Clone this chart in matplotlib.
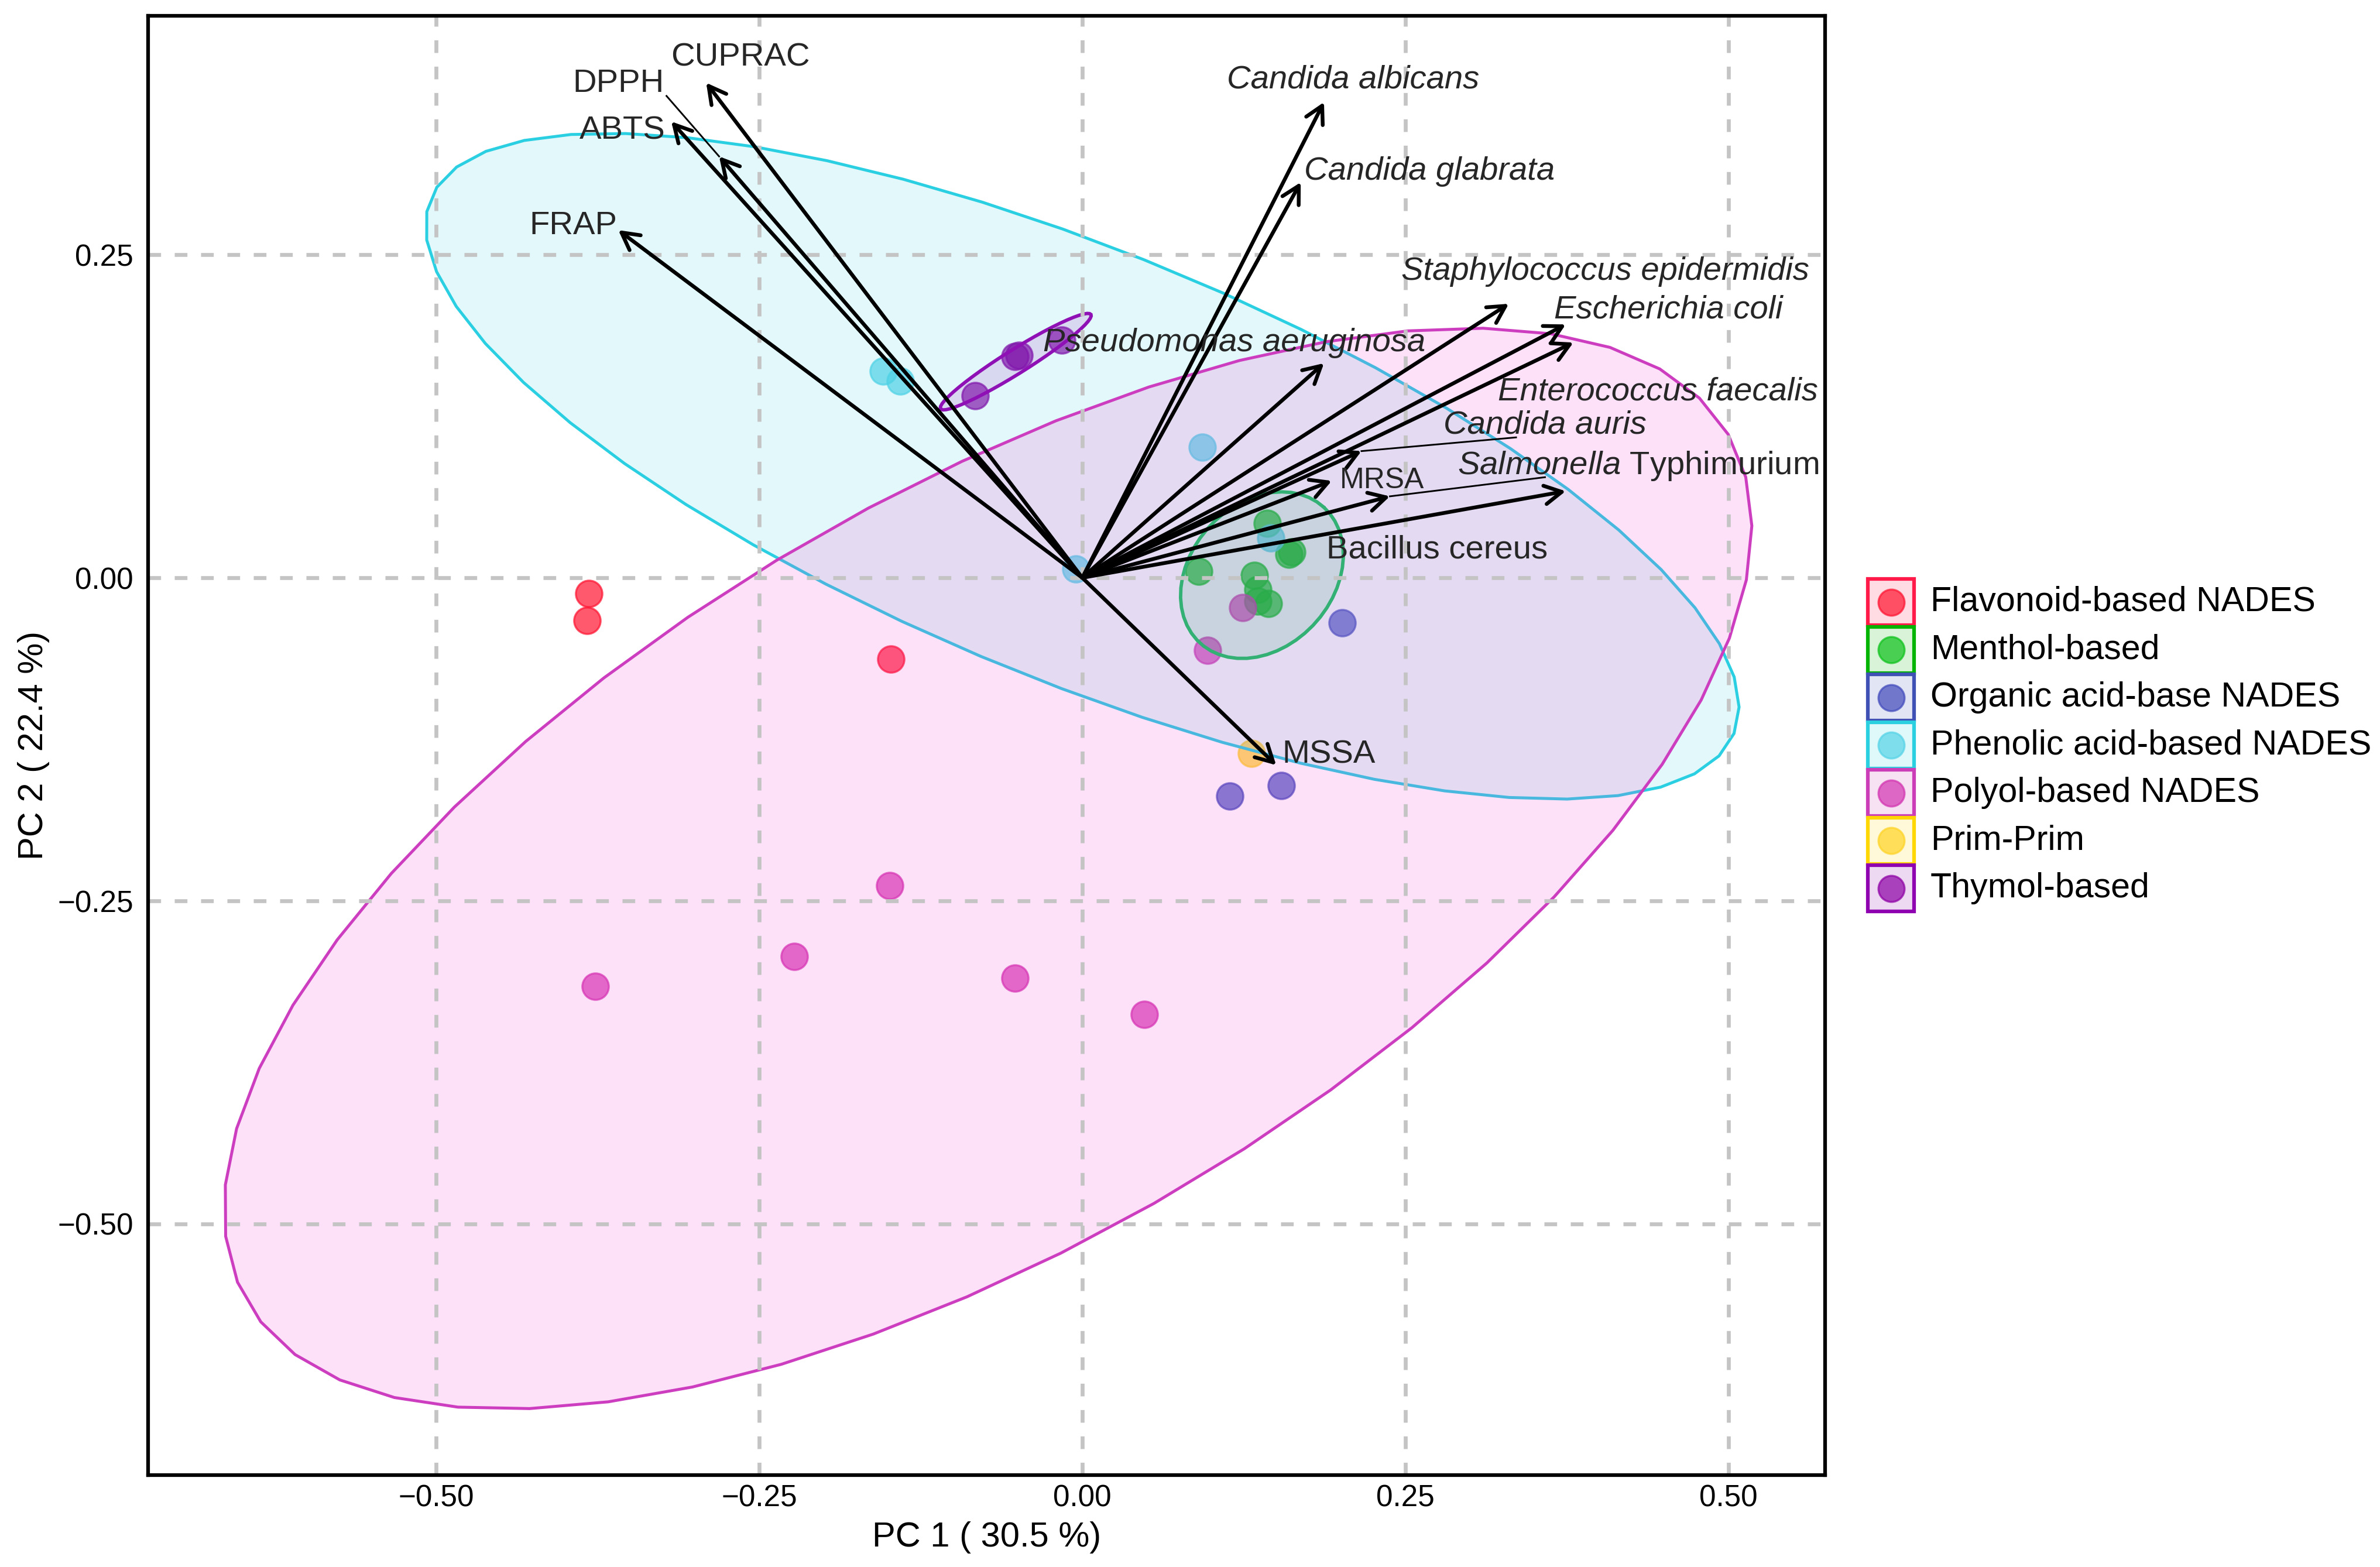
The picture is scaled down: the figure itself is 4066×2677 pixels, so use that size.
import numpy as np
import matplotlib.pyplot as plt
from matplotlib.colors import to_rgba
from matplotlib.patches import Polygon, Rectangle

plt.rcParams['font.family'] = ['Liberation Sans', 'DejaVu Sans']
plt.rcParams['mathtext.fontset'] = 'custom'
plt.rcParams['mathtext.rm'] = 'Liberation Sans'
plt.rcParams['mathtext.it'] = 'Liberation Sans:italic'

W, H, DPI = 4066, 2677, 300

# group order as in the legend
groups = ["Flavonoid-based NADES", "Menthol-based", "Organic acid-base NADES",
          "Phenolic acid-based NADES", "Polyol-based NADES", "Prim-Prim", "Thymol-based"]

# sample scores (PC1, PC2)
flavonoid_pc1 = [-0.382, -0.383, -0.148]
flavonoid_pc2 = [-0.012, -0.033, -0.063]
menthol_pc1 = [0.143, 0.162, 0.160, 0.090, 0.133, 0.136, 0.136, 0.144]
menthol_pc2 = [0.042, 0.020, 0.018, 0.005, 0.002, -0.009, -0.018, -0.020]
organic_pc1 = [0.201, 0.114, 0.154]
organic_pc2 = [-0.035, -0.169, -0.161]
phenolic_pc1 = [-0.154, -0.141, 0.093, -0.005, 0.146]
phenolic_pc2 = [0.160, 0.152, 0.101, 0.007, 0.031]
polyol_pc1 = [-0.377, -0.223, -0.149, -0.052, 0.048, 0.097, 0.124]
polyol_pc2 = [-0.316, -0.293, -0.238, -0.310, -0.338, -0.056, -0.023]
primprim_pc1 = [0.131]
primprim_pc2 = [-0.136]
thymol_pc1 = [-0.016, -0.052, -0.049, -0.083]
thymol_pc2 = [0.184, 0.171, 0.172, 0.141]

scores_pc1 = [flavonoid_pc1, menthol_pc1, organic_pc1, phenolic_pc1,
              polyol_pc1, primprim_pc1, thymol_pc1]
scores_pc2 = [flavonoid_pc2, menthol_pc2, organic_pc2, phenolic_pc2,
              polyol_pc2, primprim_pc2, thymol_pc2]

# 95% ellipses (centre, semi-axes, angle in degrees), in drawing order
ellipse_groups = ["Phenolic acid-based NADES", "Polyol-based NADES", "Menthol-based", "Thymol-based"]
ellipse_cx = [0.0, -0.073, 0.139, -0.0515]
ellipse_cy = [0.0863, -0.225, 0.002, 0.1672]
ellipse_a = [0.545, 0.664, 0.0711, 0.0687]
ellipse_b = [0.166, 0.2886, 0.0554, 0.0092]
ellipse_angle = [-22.3, 30.4, 47.7, 32.1]

# variable loadings (arrow tips)
loading_names = ["CUPRAC", "ABTS", "DPPH", "FRAP", "Candida albicans", "Candida glabrata",
                 "Staphylococcus epidermidis", "Escherichia coli", "Enterococcus faecalis",
                 "Pseudomonas aeruginosa", "Candida auris", "MRSA",
                 "Salmonella Typhimurium", "Bacillus cereus", "MSSA"]
loading_pc1 = [-0.291, -0.318, -0.281, -0.359, 0.187, 0.169, 0.330, 0.374, 0.380,
               0.187, 0.216, 0.193, 0.238, 0.374, 0.150]
loading_pc2 = [0.383, 0.353, 0.326, 0.269, 0.368, 0.306, 0.212, 0.196, 0.182,
               0.166, 0.098, 0.075, 0.063, 0.067, -0.145]

xticks = [-0.50, -0.25, 0.00, 0.25, 0.50]
xtick_labels = ["\u22120.50", "\u22120.25", "0.00", "0.25", "0.50"]
yticks = [-0.50, -0.25, 0.00, 0.25]
ytick_labels = ["\u22120.50", "\u22120.25", "0.00", "0.25"]

# ---- styles / layout ----
point_colors = ["#FF1330", "#0CC21A", "#414ABC", "#55D3E7", "#D333B0", "#FFD324", "#8E00A5"]
key_edges = ["#FF1A4A", "#00B400", "#3F51B5", "#2BD0E0", "#CC3DB8", "#FFD700", "#8E00B0"]
ell_edge = {"Menthol-based": "#33B074", "Phenolic acid-based NADES": "#2BCFE2",
            "Polyol-based NADES": "#CD3DBF", "Thymol-based": "#8F10B5"}
ell_fill = {"Menthol-based": ("#00A050", 0.12), "Phenolic acid-based NADES": ("#2BD0E0", 0.13),
            "Polyol-based NADES": ("#F038D0", 0.15), "Thymol-based": ("#8E00B0", 0.12)}
ell_lw = {"Menthol-based": 1.4, "Phenolic acid-based NADES": 1.2,
          "Polyol-based NADES": 1.2, "Thymol-based": 1.4}

italic_names = {"Candida albicans", "Candida glabrata", "Staphylococcus epidermidis",
                "Escherichia coli", "Enterococcus faecalis", "Pseudomonas aeruginosa",
                "Candida auris"}
label_pos = {
    "CUPRAC": (-0.2647, 0.4026), "DPPH": (-0.3587, 0.3821), "ABTS": (-0.3557, 0.3458),
    "FRAP": (-0.394, 0.272), "Candida albicans": (0.2096, 0.385),
    "Candida glabrata": (0.2685, 0.3142), "Staphylococcus epidermidis": (0.4047, 0.2367),
    "Escherichia coli": (0.4535, 0.2072), "Pseudomonas aeruginosa": (0.1175, 0.1817),
    "Enterococcus faecalis": (0.4453, 0.1436), "Candida auris": (0.3579, 0.1182),
    "MRSA": (0.2319, 0.0753), "Salmonella Typhimurium": (0.4301, 0.0864),
    "Bacillus cereus": (0.2746, 0.0213), "MSSA": (0.1907, -0.1372)}
leader_start = {"DPPH": (-0.3217, 0.3728), "Candida auris": (0.3356, 0.1086),
                "Salmonella Typhimurium": (0.358, 0.0778)}
label_text = {"Salmonella Typhimurium": r"$\it{Salmonella}$ Typhimurium"}
label_size = {"MRSA": 12.0}

fig = plt.figure(figsize=(W / DPI, H / DPI), dpi=DPI)
ax = fig.add_axes([253 / W, 1 - 2520 / H, (3118 - 253) / W, (2520 - 27) / H])
ax.set_xlim(-0.7228, 0.5747)
ax.set_ylim(-0.6943, 0.4348)

ax.set_xticks(xticks)
ax.set_xticklabels(xtick_labels)
ax.set_yticks(yticks)
ax.set_yticklabels(ytick_labels)
ax.tick_params(length=0, labelsize=12.3, labelcolor="black")
ax.tick_params(axis="x", pad=3.7)
ax.tick_params(axis="y", pad=6)
# dashed grid sits over points and ellipse fills, under the arrows
ax.set_axisbelow("line")
ax.grid(True, color="#C4C4C4", lw=1.6, ls=(0, (3.25, 3.5)))
for sp in ax.spines.values():
    sp.set_linewidth(1.5)
    sp.set_color("black")

# points first, the ellipse fills lie over them
for g, xs, ys, c in zip(groups, scores_pc1, scores_pc2, point_colors):
    ax.scatter(xs, ys, s=118, color=c, alpha=0.7, lw=0.8, zorder=1.0)

# ellipses
t = np.linspace(0, 2 * np.pi, 52)
for k, g in enumerate(ellipse_groups):
    th = np.deg2rad(ellipse_angle[k])
    ex = ellipse_cx[k] + ellipse_a[k] * np.cos(t) * np.cos(th) - ellipse_b[k] * np.sin(t) * np.sin(th)
    ey = ellipse_cy[k] + ellipse_a[k] * np.cos(t) * np.sin(th) + ellipse_b[k] * np.sin(t) * np.cos(th)
    fc, fa = ell_fill[g]
    poly = Polygon(np.column_stack([ex, ey]), closed=True, facecolor=to_rgba(fc, fa),
                   edgecolor=ell_edge[g], lw=ell_lw[g], zorder=1.1 + k * 0.1)
    ax.add_patch(poly)

# loading arrows
for name, lx, ly in zip(loading_names, loading_pc1, loading_pc2):
    ax.annotate("", xy=(lx, ly), xytext=(0, 0),
                arrowprops=dict(arrowstyle="->,head_length=0.7,head_width=0.38",
                                color="black", lw=1.55, shrinkA=0, shrinkB=0,
                                mutation_scale=10),
                zorder=4)
    if name in leader_start:
        sx, sy = leader_start[name]
        ax.plot([sx, lx], [sy, ly], color="black", lw=0.7, zorder=4)
    px, py = label_pos[name]
    ax.text(px, py, label_text.get(name, name), ha="center", va="center",
            fontsize=label_size.get(name, 13.5), color="#262626",
            style="italic" if name in italic_names else "normal", zorder=5)

# axis titles
fig.text(1686 / W, 1 - 2626 / H, "PC 1 ( 30.5 %)", ha="center", va="center", fontsize=14.3)
fig.text(58 / W, 1 - 1273 / H, "PC 2 ( 22.4 %)", ha="center", va="center",
         rotation=90, fontsize=14.3)

# legend drawn in pixel space
lax = fig.add_axes([0, 0, 1, 1], zorder=10)
lax.set_xlim(0, W)
lax.set_ylim(H, 0)
lax.axis("off")
key_x, key_top, key_step, key_w = 3191, 989, 81.5, 79
for i, g in enumerate(groups):
    top = key_top + i * key_step
    lax.add_patch(Rectangle((key_x, top), key_w, key_w, facecolor=to_rgba(key_edges[i], 0.15),
                            edgecolor=key_edges[i], lw=1.5))
    lax.scatter([key_x + key_w / 2], [top + key_w / 2], s=115, color=point_colors[i],
                alpha=0.7, lw=0.8)
    lax.text(3298, top + key_w / 2, g, ha="left", va="center", fontsize=14.2)

fig.savefig("out.png", dpi=DPI)
